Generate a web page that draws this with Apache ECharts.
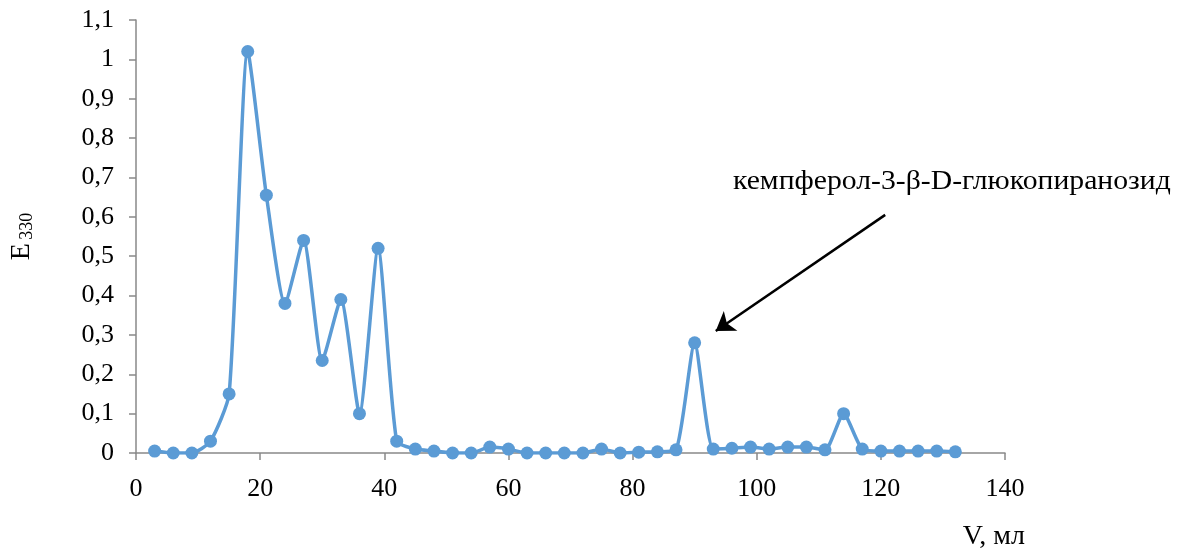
<!DOCTYPE html>
<html>
<head>
<meta charset="utf-8">
<script src="https://cdn.jsdelivr.net/npm/echarts@6/dist/echarts.min.js"></script>
<style>
  html, body { margin: 0; padding: 0; background: #fff; }
  #chart { width: 1181px; height: 555px; }
</style>
</head>
<body>
<div id="chart"></div>
<script>
// elution volume, ml
const volumes = [3, 6, 9, 12, 15, 18, 21, 24, 27, 30, 33, 36, 39, 42, 45, 48, 51, 54, 57, 60,
  63, 66, 69, 72, 75, 78, 81, 84, 87, 90, 93, 96, 99, 102, 105, 108, 111, 114, 117, 120,
  123, 126, 129, 132]
// absorbance at 330 nm
const absorbance = [0.005, 0, 0, 0.03, 0.15, 1.02, 0.655, 0.38, 0.54, 0.235, 0.39, 0.1, 0.52, 0.03,
  0.01, 0.005, 0, 0, 0.015, 0.01, 0, 0, 0, 0, 0.01, 0, 0.002, 0.003, 0.008, 0.28,
  0.01, 0.012, 0.015, 0.01, 0.015, 0.015, 0.008, 0.1, 0.01, 0.005, 0.005, 0.005, 0.005, 0.003]

const peakLabel = 'кемпферол-3-β-D-глюкопиранозид'
const arrowFrom = [120.7, 0.605]
const arrowTo = [93.4, 0.31]

const serif = '"Liberation Serif", "DejaVu Serif", serif'
const axisColor = '#898989'

const chart = echarts.init(document.getElementById('chart'))

chart.setOption({
  animation: false,
  grid: { left: 135, right: 176, top: 20, bottom: 102 },
  xAxis: {
    type: 'value',
    min: 0,
    max: 140,
    interval: 20,
    name: 'V, мл',
    nameLocation: 'end',
    nameGap: 20,
    nameTextStyle: {
      fontFamily: serif, fontSize: 28, color: '#000',
      align: 'right', verticalAlign: 'top', padding: [70, 0, 0, 0]
    },
    axisLine: { lineStyle: { color: axisColor, width: 1.5 } },
    axisTick: { show: true, length: 7, lineStyle: { color: axisColor, width: 1.5 } },
    axisLabel: { fontFamily: serif, fontSize: 26, color: '#000', margin: 23 },
    splitLine: { show: false }
  },
  yAxis: {
    type: 'value',
    min: 0,
    max: 1.1,
    interval: 0.1,
    name: '{e|E} {s|330}',
    nameLocation: 'middle',
    nameRotate: 90,
    nameGap: 100,
    nameTextStyle: {
      rich: {
        e: { fontFamily: serif, fontSize: 28, color: '#000' },
        s: { fontFamily: serif, fontSize: 18, color: '#000', padding: [10, 0, 0, 0] }
      }
    },
    axisLine: { show: true, lineStyle: { color: axisColor, width: 1.5 } },
    axisTick: { show: true, length: 7, lineStyle: { color: axisColor, width: 1.5 } },
    axisLabel: {
      fontFamily: serif, fontSize: 26, color: '#000', margin: 22,
      formatter: v => String(+v.toFixed(1)).replace('.', ',')
    },
    splitLine: { show: false }
  },
  series: [{
    type: 'line',
    data: volumes.map((v, i) => [v, absorbance[i]]),
    smooth: 0.2,
    symbol: 'circle',
    symbolSize: 13,
    lineStyle: { color: '#5b9bd5', width: 3.5 },
    itemStyle: { color: '#5b9bd5' },
    markLine: {
      silent: true,
      symbol: ['none', 'arrow'],
      symbolSize: 18,
      lineStyle: { color: '#000', width: 2.5, type: 'solid' },
      label: { show: false },
      data: [[{ coord: arrowFrom }, { coord: arrowTo }]]
    }
  }],
  graphic: [{
    type: 'text',
    left: 733,
    top: 168,
    scaleX: 1.1,
    style: { text: peakLabel, font: '27px ' + serif, fill: '#000' }
  }]
})
</script>
</body>
</html>
